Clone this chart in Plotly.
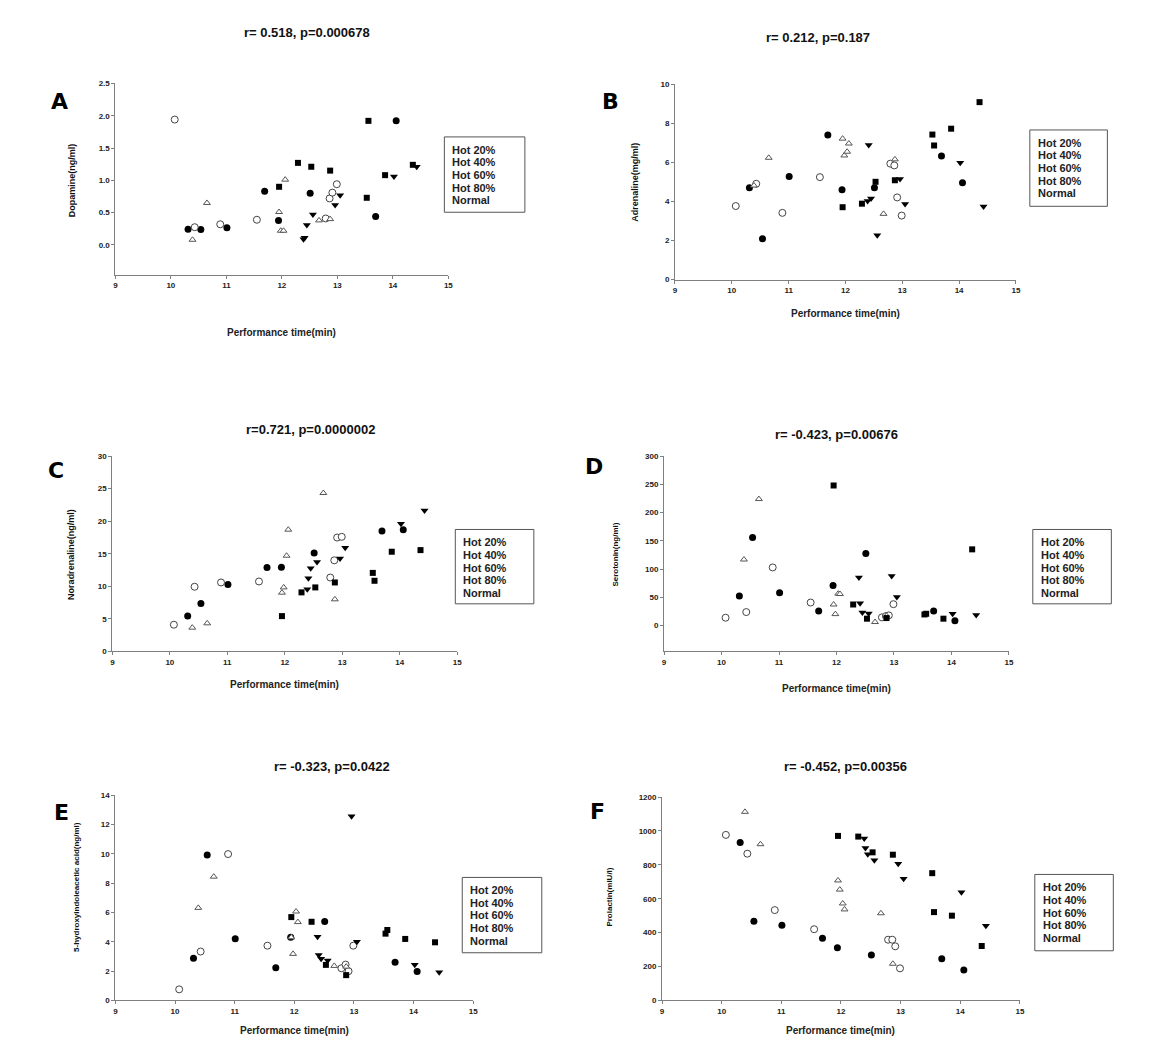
import plotly.graph_objects as go

W, H = 1164, 1037

# ---------------- data ----------------
group_names = ["Hot 20%", "Hot 40%", "Hot 60%", "Hot 80%", "Normal"]

time_hot20 = [10.31, 10.54, 11.01, 11.69, 11.94, 12.51, 13.69, 14.06]
time_hot40 = [10.07, 10.43, 10.89, 11.55, 12.79, 12.86, 12.91, 12.99]
time_hot60 = [12.39, 12.41, 12.45, 12.56, 12.96, 13.05, 14.02, 14.43]
time_hot80 = [10.39, 10.65, 11.95, 11.98, 12.03, 12.06, 12.67, 12.87]
time_normal = [11.95, 12.29, 12.53, 12.87, 13.53, 13.56, 13.86, 14.36]

dopamine_hot20 = [0.245, 0.24, 0.265, 0.83, 0.38, 0.80, 0.44, 1.92]
dopamine_hot40 = [1.94, 0.275, 0.32, 0.39, 0.41, 0.72, 0.81, 0.94]
dopamine_hot60 = [0.09, 0.11, 0.31, 0.47, 0.62, 0.77, 1.06, 1.21]
dopamine_hot80 = [0.08, 0.65, 0.51, 0.22, 0.22, 1.01, 0.38, 0.40]
dopamine_normal = [0.90, 1.27, 1.21, 1.15, 0.73, 1.92, 1.08, 1.24]

adrenaline_hot20 = [4.70, 2.10, 5.28, 7.41, 4.60, 4.70, 6.33, 4.96]
adrenaline_hot40 = [3.77, 4.91, 3.42, 5.25, 5.94, 5.85, 4.21, 3.28]
adrenaline_hot60 = [4.03, 6.89, 4.15, 2.27, 5.16, 3.87, 5.99, 3.74]
adrenaline_hot80 = [4.82, 6.24, 7.22, 6.36, 6.55, 6.97, 3.37, 6.16]
adrenaline_normal = [3.71, 3.89, 5.01, 5.09, 7.43, 6.87, 7.73, 9.09]

noradrenaline_hot20 = [5.42, 7.35, 10.29, 12.87, 12.92, 15.10, 18.5, 18.70]
noradrenaline_hot40 = [4.1, 9.93, 10.59, 10.74, 11.35, 13.99, 17.49, 17.6]
noradrenaline_hot60 = [9.53, 11.25, 12.77, 13.73, 14.29, 15.91, 19.61, 21.64]
noradrenaline_hot80 = [3.65, 4.31, 9.02, 9.83, 14.70, 18.70, 24.33, 8.0]
noradrenaline_normal = [5.42, 9.07, 9.83, 10.59, 12.06, 10.85, 15.31, 15.56]

serotonin_hot20 = [52.5, 156, 58.4, 25.7, 71.2, 127.8, 25.7, 8.8]
serotonin_hot40 = [14, 24, 103, 40.9, 14.6, 16.9, 18.1, 38]
serotonin_hot60 = [85, 39.7, 23.4, 21.6, 88, 50.8, 21, 18.7]
serotonin_hot80 = [117, 224, 37.4, 20.4, 56.6, 56, 6.4, 17.5]
serotonin_normal = [248, 37.4, 12.3, 13.4, 19.8, 21, 12.3, 135]

hiaa_hot20 = [2.87, 9.91, 4.21, 2.22, 4.30, 5.38, 2.60, 1.97]
hiaa_hot40 = [0.75, 3.33, 9.98, 3.73, 2.19, 2.44, 1.99, 3.73]
hiaa_hot60 = [4.34, 3.10, 2.83, 2.71, 12.56, 4.0, 2.42, 1.92]
hiaa_hot80 = [6.31, 8.44, 4.3, 3.17, 6.06, 5.34, 2.35, 2.3]
hiaa_normal = [5.68, 5.36, 2.42, 1.72, 4.55, 4.80, 4.19, 3.96]

prolactin_hot20 = [932, 467, 444, 366, 311, 268, 245, 179]
prolactin_hot40 = [977, 866, 533, 420, 358, 358, 319, 189]
prolactin_hot60 = [955, 899, 862, 827, 807, 718, 638, 440]
prolactin_hot80 = [1113, 922, 708, 654, 572, 537, 514, 216]
prolactin_normal = [971, 967, 874, 860, 751, 521, 500, 321]

panel_letters = ["A", "B", "C", "D", "E", "F"]
panel_titles = ["r= 0.518, p=0.000678", "r= 0.212, p=0.187", "r=0.721, p=0.0000002",
                "r= -0.423, p=0.00676", "r= -0.323, p=0.0422", "r= -0.452, p=0.00356"]
y_titles = ["Dopamine(ng/ml)", "Adrenaline(mg/ml)", "Noradrenaline(ng/ml)",
            "Serotonin(ng/ml)", "5-hydroxyindoleacetic acid(ng/ml)", "Prolactin(mIU/l)"]
x_title = "Performance time(min)"
x_ticks = [9, 10, 11, 12, 13, 14, 15]

times = [time_hot20, time_hot40, time_hot60, time_hot80, time_normal]
panel_values = [
    [dopamine_hot20, dopamine_hot40, dopamine_hot60, dopamine_hot80, dopamine_normal],
    [adrenaline_hot20, adrenaline_hot40, adrenaline_hot60, adrenaline_hot80, adrenaline_normal],
    [noradrenaline_hot20, noradrenaline_hot40, noradrenaline_hot60, noradrenaline_hot80, noradrenaline_normal],
    [serotonin_hot20, serotonin_hot40, serotonin_hot60, serotonin_hot80, serotonin_normal],
    [hiaa_hot20, hiaa_hot40, hiaa_hot60, hiaa_hot80, hiaa_normal],
    [prolactin_hot20, prolactin_hot40, prolactin_hot60, prolactin_hot80, prolactin_normal],
]

# ---------------- layout / style ----------------
# per panel: axis box (px), y range, y tick step & format, title pos, letter pos, legend box, y-title pos & size, x-title pos
panel_layout = [
    dict(ax=(106, 441, 72, 265), yr=[-0.46, 2.5], dt=0.5, fmt=".1f", tt=(299, 21), lt=(50, 90),
         lg=(437, 518, 126, 202), yt=(62, 170, 9), xt=(273, 323)),
    dict(ax=(669, 1012, 73, 270), yr=[0, 10], dt=2, fmt="d", tt=(813, 26), lt=(604, 90),
         lg=(1026, 1104, 119, 196), yt=(628, 172, 9), xt=(841, 304)),
    dict(ax=(103, 450, 448, 645), yr=[0, 30], dt=5, fmt="d", tt=(302, 421), lt=(46, 463),
         lg=(448, 527, 522, 597), yt=(62, 547, 9), xt=(276, 678)),
    dict(ax=(658, 1005, 448, 645), yr=[-45.6, 300], dt=50, fmt="d", tt=(831, 426), lt=(588, 458),
         lg=(1029, 1108, 522, 597), yt=(609, 547, 8), xt=(831, 682)),
    dict(ax=(106, 466, 790, 997), yr=[0, 14], dt=2, fmt="d", tt=(324, 761), lt=(52, 808),
         lg=(455, 535, 873, 949), yt=(67, 883, 8), xt=(286, 1027)),
    dict(ax=(656, 1016, 792, 997), yr=[0, 1200], dt=200, fmt="d", tt=(841, 761), lt=(591, 807),
         lg=(1031, 1110, 870, 947), yt=(603, 893, 8), xt=(836, 1027)),
]

marker_styles = [
    dict(symbol="circle", size=7, color="#000000", line=dict(color="#000000", width=0)),
    dict(symbol="circle", size=7, color="#ffffff", line=dict(color="#444444", width=1)),
    dict(symbol="triangle-down", size=7, color="#000000", line=dict(color="#000000", width=0)),
    dict(symbol="triangle-up", size=6, color="#ffffff", line=dict(color="#555555", width=1)),
    dict(symbol="square", size=6, color="#000000", line=dict(color="#000000", width=0)),
]

FONT = "Liberation Sans, Arial, sans-serif"


def px(x):
    return x / W


def py(y):
    return 1 - y / H


fig = go.Figure()
annotations = []
shapes = []

for i, (vals, pl) in enumerate(zip(panel_values, panel_layout)):
    n = "" if i == 0 else str(i + 1)
    xa, ya = "x" + n, "y" + n
    for g, (t, v) in enumerate(zip(times, vals)):
        fig.add_trace(go.Scatter(x=t, y=v, mode="markers", name=group_names[g],
                                 marker=marker_styles[g], xaxis=xa, yaxis=ya,
                                 showlegend=False, cliponaxis=False))
    x0, x1, y0, y1 = pl["ax"]
    common = dict(showline=True, linecolor="#7f7f7f", linewidth=1, ticks="outside",
                  ticklen=3, tickcolor="#7f7f7f", showgrid=False, zeroline=False,
                  tickfont=dict(family=FONT, size=8, color="#222222", weight="bold"))
    fig.layout["xaxis" + n] = dict(domain=[px(x0), px(x1)], anchor=ya, range=[9, 15],
                                   tickvals=x_ticks, **common)
    ymin, ymax = pl["yr"]
    yticks = []
    v = 0
    while v <= ymax + 1e-9:
        yticks.append(v)
        v += pl["dt"]
    fig.layout["yaxis" + n] = dict(domain=[py(y1), py(y0)], anchor=xa, range=pl["yr"],
                                   tickvals=yticks,
                                   tickformat=".1f" if pl["fmt"] == ".1f" else "d", **common)
    # title
    annotations.append(dict(text="<b>%s</b>" % panel_titles[i], x=px(pl["tt"][0]), y=py(pl["tt"][1]),
                            xref="paper", yref="paper", showarrow=False, xanchor="center",
                            yanchor="middle", font=dict(family=FONT, size=13, color="#111111")))
    # panel letter
    annotations.append(dict(text="<b>%s</b>" % panel_letters[i], x=px(pl["lt"][0]), y=py(pl["lt"][1]),
                            xref="paper", yref="paper", showarrow=False, xanchor="center",
                            yanchor="middle", font=dict(family="DejaVu Sans, sans-serif", size=22,
                                                        color="#000000")))
    # y title
    annotations.append(dict(text="<b>%s</b>" % y_titles[i], x=px(pl["yt"][0]), y=py(pl["yt"][1]),
                            xref="paper", yref="paper", showarrow=False, xanchor="center",
                            yanchor="middle", textangle=-90,
                            font=dict(family=FONT, size=pl["yt"][2], color="#111111")))
    # x title
    annotations.append(dict(text="<b>%s</b>" % x_title, x=px(pl["xt"][0]), y=py(pl["xt"][1]),
                            xref="paper", yref="paper", showarrow=False, xanchor="center",
                            yanchor="middle", font=dict(family=FONT, size=10, color="#222222")))
    # legend box (text only, as in the original)
    lx0, lx1, ly0, ly1 = pl["lg"]
    shapes.append(dict(type="rect", xref="paper", yref="paper", x0=px(lx0), x1=px(lx1),
                       y0=py(ly1), y1=py(ly0), line=dict(color="#555555", width=1),
                       fillcolor="rgba(0,0,0,0)"))
    for k, name in enumerate(group_names):
        annotations.append(dict(text="<b>%s</b>" % name, x=px(lx0 + 6), y=py(ly0 + 13 + k * 12.7),
                                xref="paper", yref="paper", showarrow=False, xanchor="left",
                                yanchor="middle",
                                font=dict(family=FONT, size=11, color="#222222")))

fig.update_layout(width=W, height=H, margin=dict(l=0, r=0, t=0, b=0),
                  paper_bgcolor="white", plot_bgcolor="white", showlegend=False,
                  annotations=annotations, shapes=shapes)

fig.write_html("out.html")
